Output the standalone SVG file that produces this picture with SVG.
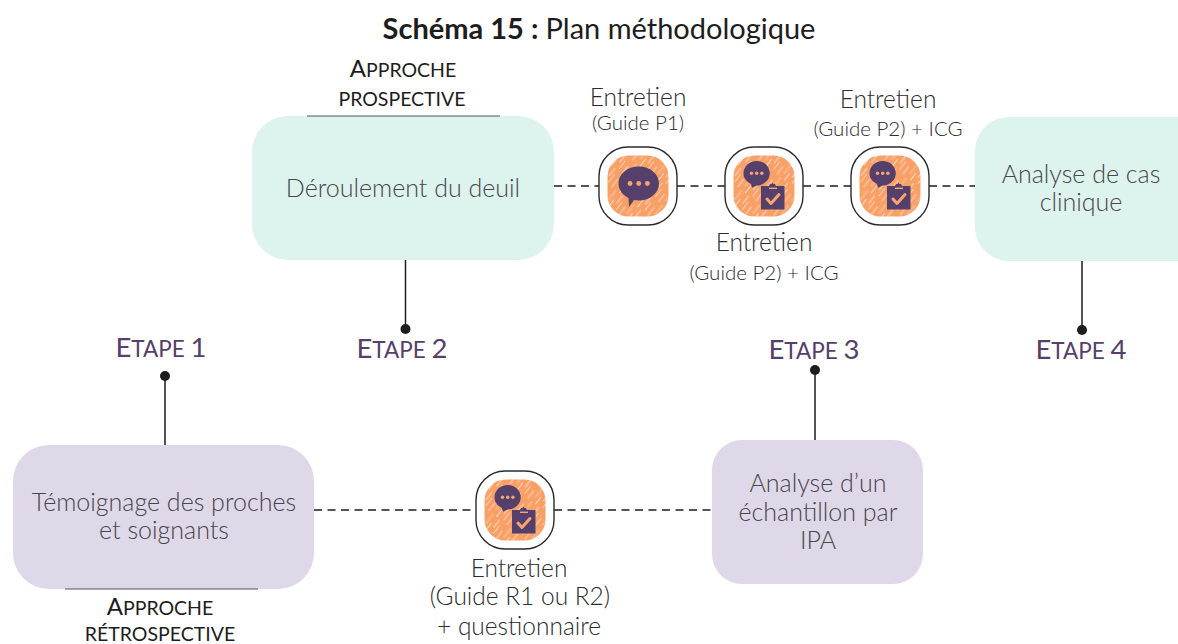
<svg xmlns="http://www.w3.org/2000/svg" width="1178" height="644" viewBox="0 0 1178 644">
<style>
text{font-family:Lato,"Open Sans","Liberation Sans",sans-serif;text-anchor:middle}
.t{font-size:24.500px;fill:#2b2b2f;font-weight:300}
.n{font-size:25px;fill:#46464c;font-weight:300}
.s{font-size:20.500px;fill:#2b2b2f;font-weight:300}
.e{font-size:27.500px;fill:#54406b}
.e tspan{font-size:22.500px}
.a{font-size:24px;fill:#1d1d20}
.a tspan{font-size:19.500px}
.l{stroke:#1d1d1d;stroke-width:1.5;fill:none}
.d{stroke:#1d1d1d;stroke-width:1.4;fill:none;stroke-dasharray:8 5.5}
.r{stroke:#555;stroke-width:1;fill:none}
.o{fill:#fff;stroke:#2a2a2a;stroke-width:1.4}
.p{fill:#54406b}
.q{fill:#f9a46f}
</style>
<defs>
<pattern id="h" width="17" height="23" patternUnits="userSpaceOnUse" patternTransform="rotate(-52)">
<rect width="17" height="23" fill="#f9a066"/>
<rect y="2" width="10" height="1.6" fill="#fcc29c"/>
<rect x="5" y="7" width="12" height="2.4" fill="#fbb283"/>
<rect x="0" y="12" width="9" height="1" fill="#fedcc6"/>
<rect x="7" y="16" width="10" height="1.800" fill="#fcc29c"/>
<rect x="2" y="20" width="10" height="1" fill="#fdd0b2"/>
</pattern>
<g id="frame">
<rect class="o" x="-39" y="-39" width="78" height="78" rx="29"/>
<rect x="-30.500" y="-30.500" width="61" height="61" rx="21" fill="url(#h)"/>
</g>
<g id="chat">
<use href="#frame"/>
<path class="p" d="M0.700 -19.500C12 -19.500 21 -12 21 -2.500C21 7 12 14.500 0.700 14.500C-1 14.500 -2.500 14.300 -4 14L-9 21L-9.500 12C-15.500 9 -19.500 3.500 -19.500 -2.500C-19.500 -12 -10.500 -19.500 0.700 -19.500Z"/>
<circle class="q" cx="-8" cy="-2.500" r="2.400"/><circle class="q" cx="0.700" cy="-2.500" r="2.400"/><circle class="q" cx="9.400" cy="-2.500" r="2.400"/>
</g>
<g id="both">
<use href="#frame"/>
<path class="p" d="M-7.300 -25C0 -25 5.800 -19.500 5.800 -12.700C5.800 -6 0 -.5 -7.300 -.5L-12 1.800L-13 -2C-17.500 -4 -20.500 -8 -20.500 -12.700C-20.500 -19.500 -14.500 -25 -7.300 -25Z"/>
<circle class="q" cx="-12.500" cy="-12.700" r="1.700"/><circle class="q" cx="-7.300" cy="-12.700" r="1.700"/><circle class="q" cx="-2.100" cy="-12.700" r="1.700"/>
<path class="p" d="M-3 0H5L6 -2H7.500L8.500 -3.200L9.500 -2H11L12 0H20.500V23.500H-3Z"/>
<rect class="q" x="5" y="1.600" width="8" height="1.400"/>
<path fill="none" stroke="#f9a46f" stroke-width="3" stroke-linecap="round" stroke-linejoin="round" d="M3 13L7 17.500L15 8.500"/>
</g>
</defs>

<text x="599" y="39" font-size="29" fill="#1d1d20"><tspan font-weight="700">Schéma 15 : </tspan>Plan méthodologique</text>

<g id="connectors">
<path class="d" d="M554 186H599M677 186H725M803 186H851M929 186H975"/>
<path class="d" d="M314 510H476M554 510H712"/>
<path class="l" d="M405.500 260V329"/><circle cx="405.500" cy="329" r="5" fill="#1d1d1d"/>
<path class="l" d="M1082 260V329"/><circle cx="1082" cy="330" r="5" fill="#1d1d1d"/>
<path class="l" d="M165 376V445"/><circle cx="165" cy="376" r="5" fill="#1d1d1d"/>
<path class="l" d="M815 370V440"/><circle cx="815" cy="370" r="5" fill="#1d1d1d"/>
</g>

<g id="node-deroulement">
<rect x="252" y="116" width="302" height="144" rx="36" fill="#ddf3ee"/>
<text class="n" x="403" y="197">Déroulement du deuil</text>
</g>
<g id="node-analyse-cas">
<rect x="975" y="117" width="240" height="144" rx="34" fill="#ddf3ee"/>
<text class="n" x="1081" y="183">Analyse de cas</text>
<text class="n" x="1081" y="211">clinique</text>
</g>
<g id="node-temoignage">
<rect x="13" y="445" width="301" height="144" rx="36" fill="#dfd8e8"/>
<text class="n" x="164" y="511">Témoignage des proches</text>
<text class="n" x="164" y="539">et soignants</text>
</g>
<g id="node-ipa">
<rect x="712" y="440" width="211" height="144" rx="30" fill="#dfd8e8"/>
<text class="n" x="818" y="492">Analyse d’un</text>
<text class="n" x="818" y="521">échantillon par</text>
<text class="n" x="818" y="549">IPA</text>
</g>

<g id="approche-prospective">
<text class="a" x="403" y="77">A<tspan>PPROCHE</tspan></text>
<text class="a" x="402" y="106"><tspan>PROSPECTIVE</tspan></text>
<path class="r" d="M307 116H500"/>
</g>
<g id="approche-retrospective">
<path class="r" d="M65 589H258"/>
<text class="a" x="160" y="615">A<tspan>PPROCHE</tspan></text>
<text class="a" x="160" y="641"><tspan>RÉTROSPECTIVE</tspan></text>
</g>

<g id="etape-1"><text class="e" x="161" y="357">E<tspan>TAPE </tspan>1</text></g>
<g id="etape-2"><text class="e" x="402" y="358">E<tspan>TAPE </tspan>2</text></g>
<g id="etape-3"><text class="e" x="814" y="359">E<tspan>TAPE </tspan>3</text></g>
<g id="etape-4"><text class="e" x="1081" y="359">E<tspan>TAPE </tspan>4</text></g>

<g id="icon-p1">
<use href="#chat" x="638" y="186"/>
<text class="t" x="638" y="106">Entretien</text>
<text class="s" x="638" y="130">(Guide P1)</text>
</g>
<g id="icon-p2a">
<use href="#both" x="764" y="186"/>
<text class="t" x="764" y="251">Entretien</text>
<text class="s" x="764" y="280">(Guide P2) + ICG</text>
</g>
<g id="icon-p2b">
<use href="#both" x="890" y="186"/>
<text class="t" x="888" y="108">Entretien</text>
<text class="s" x="888" y="136">(Guide P2) + ICG</text>
</g>
<g id="icon-r">
<use href="#both" x="515" y="510"/>
<text class="t" x="519" y="577">Entretien</text>
<text class="t" x="520" y="605">(Guide R1 ou R2)</text>
<text class="t" x="519" y="635">+ questionnaire</text>
</g>
</svg>
